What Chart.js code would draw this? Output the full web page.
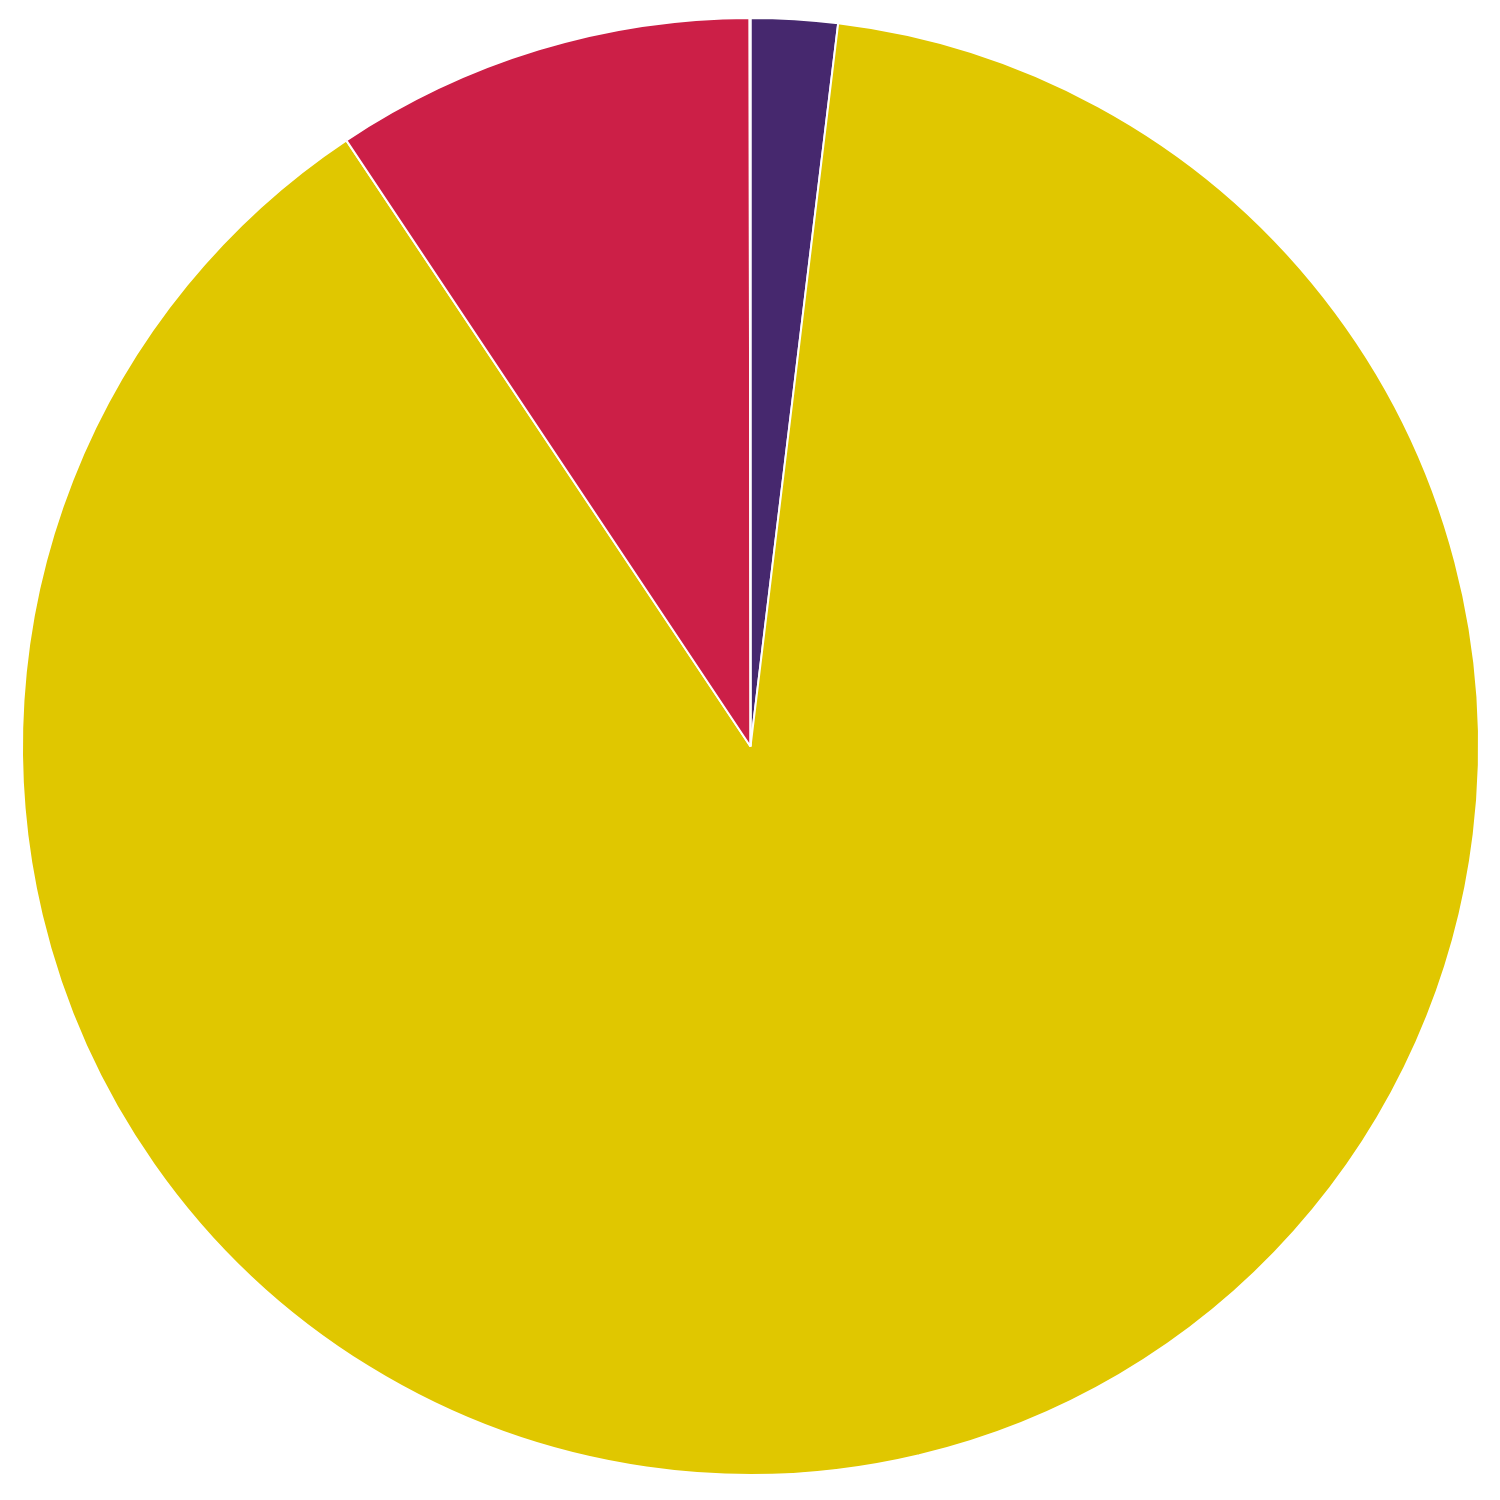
<!DOCTYPE html>
<html>
<head>
<meta charset="utf-8">
<script src="https://cdn.jsdelivr.net/npm/chart.js@4/dist/chart.umd.min.js"></script>
<style>
  html, body { margin: 0; padding: 0; background: #ffffff; }
  #wrap { width: 1500px; height: 1500px; }
</style>
</head>
<body>
<div id="wrap"><canvas id="pieChart"></canvas></div>
<script>
// Slice data, clockwise from 12 o'clock
const labels = ['A', 'B', 'C', 'D'];
const values = [1.92, 88.72, 9.34, 0.02];
const colors = ['#46286e', '#e0c700', '#cc1f47', '#f0a0a8'];

const ctx = document.getElementById('pieChart');

const pieChart = new Chart(ctx, {
    type: 'pie',
    data: {
        labels: labels,
        datasets: [{
            data: values,
            backgroundColor: colors,
            borderColor: '#ffffff',
            borderWidth: 2,
            hoverOffset: 0,
            offset: 0
        }]
    },
    options: {
        responsive: true,
        maintainAspectRatio: false,
        animation: false,
        layout: {
            padding: { left: 21, right: 20, top: 17, bottom: 24 }
        },
        plugins: {
            legend: { display: false },
            tooltip: { enabled: false }
        }
    }
});
</script>
</body>
</html>
